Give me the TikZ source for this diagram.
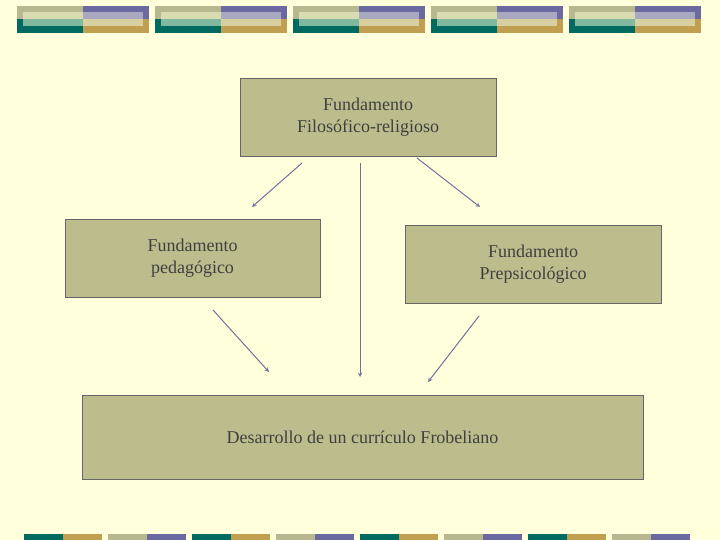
\documentclass[tikz,border=0pt]{standalone}
\usepackage{fontspec}
\setmainfont{Liberation Serif}
\begin{document}
\begin{tikzpicture}[x=1pt,y=-1pt,
  box/.style={draw=gray!80!black,fill=boxc,line width=0.8pt,inner sep=0pt,font=\fontsize{18}{22}\selectfont,text=black!75,align=center},
  arr/.style={draw=arrc,line width=1pt,-stealth}]
\definecolor{bg}{HTML}{FFFFDC}
\definecolor{boxc}{HTML}{BCBC8C}
\definecolor{arrc}{HTML}{7070A0}
\definecolor{kh}{HTML}{B8B890}\definecolor{pu}{HTML}{6A6AA0}
\definecolor{te}{HTML}{006A60}\definecolor{go}{HTML}{C0A050}
\definecolor{lk}{HTML}{D8DCB0}\definecolor{lp}{HTML}{A8A8C0}
\definecolor{lt}{HTML}{80B8A0}\definecolor{lg}{HTML}{D8D0A0}
\fill[bg] (0,0) rectangle (720,540);
\useasboundingbox (0,0) rectangle (720,540);
\foreach \i in {0,...,4}{
  \begin{scope}[xshift=\i*138]
  \fill[kh] (17,6) rectangle (83,19); \fill[pu] (83,6) rectangle (149,19);
  \fill[te] (17,19) rectangle (83,33); \fill[go] (83,19) rectangle (149,33);
  \fill[lk] (23,12) rectangle (83,19); \fill[lp] (83,12) rectangle (143,19);
  \fill[lt] (23,19) rectangle (83,26); \fill[lg] (83,19) rectangle (143,26);
  \end{scope}}
\foreach \i in {0,...,3}{
  \begin{scope}[xshift=\i*168]
  \fill[te] (24,534) rectangle (63,540); \fill[go] (63,534) rectangle (102,540);
  \fill[kh] (108,534) rectangle (147,540); \fill[pu] (147,534) rectangle (186,540);
  \end{scope}}
\node[box,minimum width=256,minimum height=78] (f) at (368,117) {Fundamento\\Filosófico-religioso};
\node[box,minimum width=255,minimum height=78] (p) at (192.5,258) {Fundamento\\pedagógico};
\node[box,minimum width=256,minimum height=78] (s) at (533,264) {Fundamento\\Prepsicológico};
\node[box,minimum width=561,minimum height=84] (d) at (362.5,437) {Desarrollo de un currículo Frobeliano};
\coordinate (a1s) at (302,163); \coordinate (a1e) at (252,207);
\coordinate (a2s) at (360,163); \coordinate (a2e) at (360,377);
\coordinate (a3s) at (417,158); \coordinate (a3e) at (480,207);
\coordinate (a4s) at (213,310); \coordinate (a4e) at (269,372);
\coordinate (a5s) at (479,316); \coordinate (a5e) at (428,382);
\draw[arr] (a1s) -- (a1e);
\draw[arr] (a2s) -- (a2e);
\draw[arr] (a3s) -- (a3e);
\draw[arr] (a4s) -- (a4e);
\draw[arr] (a5s) -- (a5e);
\end{tikzpicture}
\end{document}
